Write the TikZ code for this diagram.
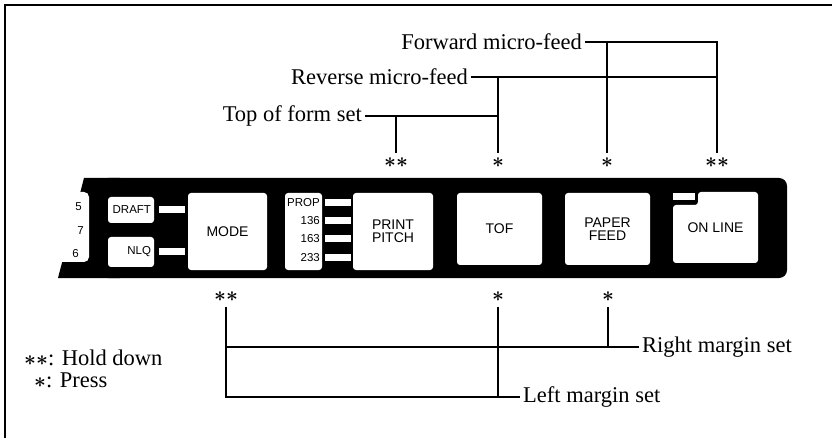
\documentclass[tikz,border=0pt]{standalone}
\usepackage{fontspec}
\setmainfont{Liberation Serif}
\newfontfamily\panelfont{Liberation Sans}
\usepackage{tikz}
\usetikzlibrary{positioning,calc}

\newcommand{\keystars}[1]{{\fontsize{20}{20}\selectfont\boldmath$#1$}}

\begin{document}
\begin{tikzpicture}[
			x = 1pt, y = -1pt,
			every node/.style = {inner sep=0pt},
			callout/.style = {font=\fontsize{22.5}{24}\selectfont, inner xsep=3pt},
			starmark/.style = {outer ysep=5.5pt},
			keycap/.style = {fill=white, rounded corners=3pt, align=center,
				font=\panelfont\fontsize{14}{12.5}\selectfont},
			keytag/.style = {font=\panelfont\fontsize{11.5}{12}\selectfont},
			ledbar/.style = {fill=white, minimum width=26pt, minimum height=7pt},
			wire/.style = {line width=1.5pt}
		]

		\useasboundingbox (0,0) rectangle (832,438);
		\draw[line width=1.6pt] (832,5) -- (5,5) -- (5,438);

		% panel
		\fill[rounded corners=8pt] (100,178) rectangle (787,278);
		\fill (84,178) -- (120,178) -- (120,278) -- (58,278) -- cycle;
		\fill[white,rounded corners=5pt] (40,192) rectangle (89,262);

		\node[keytag,anchor=east] (n5) at (82,207) {5};
		\node[keytag,anchor=east] (n7) at (84,231) {7};
		\node[keytag,anchor=east] (n6) at (79,254) {6};

		\node[keycap,keytag,minimum width=46pt,minimum height=26pt,text width=40pt,align=right] (draft) at (131,210) {DRAFT};
		\node[keycap,keytag,minimum width=46pt,minimum height=30pt,text width=40pt,align=right] (nlq) at (131,252) {NLQ};
		\node[ledbar] (leddraft) at (172,210) {};
		\node[ledbar] (lednlq) at (172,252) {};
		\node[keycap,minimum width=79pt,minimum height=77pt] (mode) at (227.5,231.5) {MODE};

		\node[keycap,minimum width=37pt,minimum height=77pt] (pitchtags) at (303.5,231.5) {};
		\node[keytag,anchor=east] (prop) at (320,203) {PROP};
		\node[keytag,anchor=east] (p136) at (320,221) {136};
		\node[keytag,anchor=east] (p163) at (320,239) {163};
		\node[keytag,anchor=east] (p233) at (320,258) {233};
		\node[ledbar] (ledprop) at (338,203) {};
		\node[ledbar] (led136) at (338,221) {};
		\node[ledbar] (led163) at (338,239) {};
		\node[ledbar] (led233) at (338,258) {};
		\node[keycap,minimum width=80pt,minimum height=77pt,align=left] (pitch) at (393,231.5) {PRINT\\PITCH};

		\node[keycap,minimum width=85pt,minimum height=72pt] (tof) at (499.5,229) {TOF};
		\node[keycap,minimum width=85pt,minimum height=72pt] (feed) at (607.5,229) {PAPER\\FEED};

		\fill[white,rounded corners=3pt] (698,192) -- (758,192) -- (758,263) -- (673,263) -- (673,205) -- (698,205) -- cycle;
		\node[ledbar,minimum width=22pt] (ledonline) at (684,196.5) {};
		\node[font=\panelfont\fontsize{14}{12.5}\selectfont] (online) at (715.5,228) {ON LINE};

		% keys to press
		\node[starmark] (s1) at (396,163) {\keystars{\ast\ast}};
		\node[starmark] (s2) at (498,163) {\keystars{\ast}};
		\node[starmark] (s3) at (607,163) {\keystars{\ast}};
		\node[starmark] (s4) at (717,163) {\keystars{\ast\ast}};
		\node[starmark] (b1) at (226,297) {\keystars{\ast\ast}};
		\node[starmark] (b2) at (498,297) {\keystars{\ast}};
		\node[starmark] (b3) at (608,297) {\keystars{\ast}};

		\node[callout,anchor=east] (fwd) at (585,42) {Forward micro-feed};
		\node[callout,anchor=east] (rev) at (471,77) {Reverse micro-feed};
		\node[callout,anchor=east] (tfs) at (365,116) {Top of form set};
		\node[callout,anchor=west] (rms) at (639,347) {Right margin set};
		\node[callout,anchor=west] (lms) at (520,397) {Left margin set};

		\node[callout,anchor=west] (hold) at (21,358) {\keystars{\ast\ast}: Hold down};
		\node[callout,anchor=west] (press) at (31,380) {\keystars{\ast}: Press};

		\draw[wire] (tfs.east) -| (s2.north);
		\draw[wire] (s1.north) -- (s1.north |- tfs.east);
		\draw[wire] (rev.east) -| (s4.north);
		\draw[wire] (s2.north) -- (s2.north |- rev.east);
		\draw[wire] (fwd.east) -| (s4.north);
		\draw[wire] (s3.north) -- (s3.north |- fwd.east);

		\draw[wire] (b1.south) |- (lms.west);
		\draw[wire] (b2.south) -- (b2.south |- lms.west);
		\draw[wire] (b1.south |- rms.west) -- (rms.west);
		\draw[wire] (b3.south) -- (b3.south |- rms.west);

		\end{tikzpicture}
\end{document}
